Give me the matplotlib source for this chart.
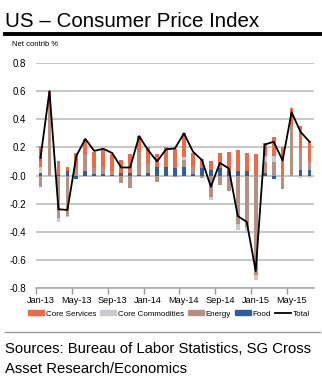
import numpy as np
import matplotlib
matplotlib.use("Agg")
import matplotlib.pyplot as plt
from matplotlib import font_manager
from matplotlib.lines import Line2D
from matplotlib.patches import Patch

# monthly net contributions, Jan-13 .. Jul-15
months = ["Jan-13", "Feb-13", "Mar-13", "Apr-13", "May-13", "Jun-13", "Jul-13", "Aug-13",
          "Sep-13", "Oct-13", "Nov-13", "Dec-13", "Jan-14", "Feb-14", "Mar-14", "Apr-14",
          "May-14", "Jun-14", "Jul-14", "Aug-14", "Sep-14", "Oct-14", "Nov-14", "Dec-14",
          "Jan-15", "Feb-15", "Mar-15", "Apr-15", "May-15", "Jun-15", "Jul-15"]
tick_labels = ["Jan-13", "May-13", "Sep-13", "Jan-14", "May-14", "Sep-14", "Jan-15", "May-15"]

food = [0.015, 0.0, 0.005, 0.03, -0.025, 0.03, 0.01, 0.012, 0.005, 0.016, 0.015, 0.005,
        0.015, 0.06, 0.06, 0.05, 0.06, 0.012, 0.05, 0.04, 0.05, 0.03, 0.03, 0.033,
        0.0, 0.017, -0.026, 0.0, 0.0, 0.04, 0.04]
energy = [-0.085, 0.47, -0.3, -0.29, 0.06, 0.12, 0.04, 0.05, 0.028, -0.054, -0.09, 0.16,
          0.075, -0.045, 0.0, -0.012, 0.05, 0.05, -0.02, -0.15, -0.067, -0.107, -0.345, -0.364,
          -0.71, 0.076, 0.093, -0.098, 0.355, 0.148, 0.065]
core_comm = [0.045, 0.0, -0.033, -0.008, 0.0, 0.0, 0.0, 0.0, 0.0, 0.0, 0.0, 0.0,
             0.0, 0.0, -0.01, 0.0, 0.02, 0.0, 0.0, -0.025, 0.0, 0.0, -0.045, -0.045,
             -0.035, 0.043, 0.047, 0.0, -0.01, -0.02, -0.015]
core_serv = [0.15, 0.13, 0.1, 0.032, 0.10, 0.11, 0.12, 0.125, 0.122, 0.094, 0.138, 0.118,
             0.11, 0.095, 0.14, 0.14, 0.17, 0.10, 0.07, 0.06, 0.11, 0.135, 0.148, 0.13,
             0.155, 0.094, 0.134, 0.2, 0.125, 0.167, 0.138]
total = [0.125, 0.6, -0.24, -0.245, 0.14, 0.26, 0.175, 0.19, 0.16, 0.057, 0.057, 0.28,
         0.18, 0.10, 0.186, 0.193, 0.30, 0.17, 0.11, -0.08, 0.09, 0.05, -0.288, -0.33,
         -0.68, 0.22, 0.24, 0.107, 0.45, 0.31, 0.24]

names = {f.name for f in font_manager.fontManager.ttflist}
main_font = "Liberation Sans" if "Liberation Sans" in names else "DejaVu Sans"
narrow_font = "Liberation Sans Narrow" if "Liberation Sans Narrow" in names else main_font

W, H = 322, 378
fig = plt.figure(figsize=(W / 100, H / 100), dpi=100)
ax = fig.add_axes([36 / W, (H - 288) / H, (314 - 36) / W, (288 - 63) / H])

x = np.arange(len(months))
# stacking from the bottom: food, energy, core commodities, core services
series = [(food, "#2B5F9E", "Food"),
          (energy, "#B49283", "Energy"),
          (core_comm, "#C9C9CE", "Core Commodities"),
          (core_serv, "#EC6A47", "Core Services")]
pos = np.zeros(len(x))
neg = np.zeros(len(x))
for vals, col, lab in series:
    v = np.asarray(vals)
    bottom = np.where(v >= 0, pos, neg)
    ax.bar(x, v, bottom=bottom, width=0.42, color=col, linewidth=0, zorder=2)
    pos = pos + np.where(v >= 0, v, 0)
    neg = neg + np.where(v < 0, v, 0)

ax.plot(x, total, color="black", lw=1.3, zorder=3)

ax.set_xlim(-0.5, len(x) - 0.5)
ax.set_ylim(-0.8, 0.8)
ax.set_yticks(np.arange(-0.8, 0.81, 0.2))
ax.set_yticklabels(["%.1f" % t for t in np.arange(-0.8, 0.81, 0.2)], fontsize=7,
                   family=narrow_font)
ax.yaxis.grid(True, color="#BEBEBE", lw=1.2, zorder=0)
ax.set_axisbelow(True)
ax.tick_params(axis="y", length=0, pad=7)

ax.set_xticks(np.arange(-0.5, 28, 4))
ax.set_xticklabels([])
ax.set_xticks(np.arange(0, 31, 4), minor=True)
ax.set_xticklabels(tick_labels, minor=True, fontsize=6.6, family=narrow_font)
ax.tick_params(axis="x", which="major", length=4, color="#999999", width=1)
ax.tick_params(axis="x", which="minor", length=0, pad=6)

for s in ["left", "right", "top"]:
    ax.spines[s].set_visible(False)
ax.spines["bottom"].set_color("#AAAAAA")
ax.spines["bottom"].set_linewidth(1.2)

fig.text(5 / W, 1 - 27 / H, "US \u2013 Consumer Price Index", fontsize=14.8,
         family=main_font, va="baseline", ha="left")
fig.add_artist(Line2D([5 / W, 320 / W], [1 - 34 / H] * 2, lw=2.8, color="black"))
fig.text(12 / W, 1 - 46 / H, "Net contrib %", fontsize=5.5, family=narrow_font,
         va="baseline", ha="left")

handles = [Patch(color="#EC6A47", label="Core Services"),
           Patch(color="#C9C9CE", label="Core Commodities"),
           Patch(color="#B49283", label="Energy"),
           Patch(color="#2B5F9E", label="Food"),
           Line2D([], [], color="black", lw=1.3, label="Total")]
fig.legend(handles=handles, loc="center", bbox_to_anchor=(169 / W, 1 - 314 / H), ncol=5,
           frameon=False, prop={"family": narrow_font, "size": 5.8}, handlelength=2.0,
           handleheight=0.6, handletextpad=0.2, columnspacing=0.5, borderpad=0,
           borderaxespad=0)

fig.add_artist(Line2D([5 / W, 320 / W], [1 - 332 / H] * 2, lw=1, color="#9A9A9A"))
fig.text(5 / W, 1 - 353 / H, "Sources: Bureau of Labor Statistics, SG Cross", fontsize=10.7,
         family=main_font, va="baseline", ha="left")
fig.text(5 / W, 1 - 373 / H, "Asset Research/Economics", fontsize=10.7,
         family=main_font, va="baseline", ha="left")

fig.savefig("out.png", dpi=100)
